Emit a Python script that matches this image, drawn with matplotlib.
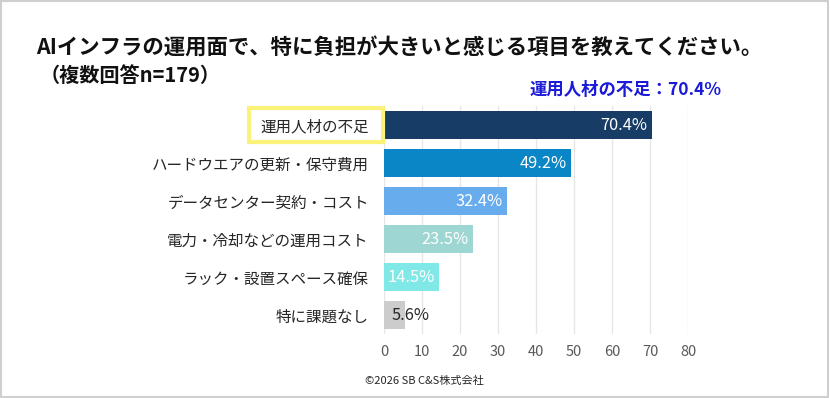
import matplotlib
matplotlib.use("Agg")
import matplotlib.pyplot as plt
from matplotlib.patches import Rectangle

plt.rcParams['font.family'] = ['Noto Sans CJK JP', 'DejaVu Sans']

categories = ["運用人材の不足", "ハードウエアの更新・保守費用", "データセンター契約・コスト",
              "電力・冷却などの運用コスト", "ラック・設置スペース確保", "特に課題なし"]
values = [70.4, 49.2, 32.4, 23.5, 14.5, 5.6]
colors = ["#173d66", "#0a85c6", "#67adee", "#9dd6d2", "#80e8e6", "#cccccc"]
xticks = [0, 10, 20, 30, 40, 50, 60, 70, 80]
title = "AIインフラの運用面で、特に負担が大きいと感じる項目を教えてください。"
subtitle = "（複数回答n=179）"
callout = "運用人材の不足：70.4%"
footer = "©2026 SB C&S株式会社"

fig = plt.figure(figsize=(8.3, 3.98), dpi=100)
ax = fig.add_axes([384/830, 1-334/398, (688-384)/830, (334-106)/398])

ypos = list(range(len(categories)))
ax.barh(ypos, values, height=0.76, color=colors, zorder=3)
ax.set_ylim(len(categories)-0.5, -0.5)
ax.set_xlim(0, 80)
ax.set_xticks(xticks)
ax.set_xticklabels([str(t) for t in xticks], fontsize=10.5, color="#595959")
ax.set_yticks(ypos)
ax.set_yticklabels(categories, fontsize=11.2, color="#262626")
ax.tick_params(axis='both', length=0)
ax.tick_params(axis='y', pad=11)
ax.tick_params(axis='x', pad=8)
ax.grid(axis='x', color="#e6e6e6", linewidth=1, zorder=0)
for s in ax.spines.values():
    s.set_visible(False)

for i, v in enumerate(values):
    if i < 5:
        ax.text(v - 1.2, i, f"{v:.1f}%", ha='right', va='center', color='white', fontsize=11.8, zorder=4)
    else:
        ax.text(2.0, i, f"{v:.1f}%", ha='left', va='center', color='#262626', fontsize=11.8, zorder=4)

# yellow highlight box around first label
fig.patches.append(Rectangle((249/830, 1-142/398), (383-249)/830, (142-108)/398,
                             transform=fig.transFigure, fill=False, edgecolor="#fbf27a",
                             linewidth=3, zorder=5))

fig.text(36/830, 1-48/398, title, fontsize=15.4, fontweight='bold', va='center', ha='left', color='#111111')
fig.text(40/830, 1-75/398, subtitle, fontsize=14.5, fontweight='bold', va='center', ha='left', color='#111111')
fig.text(722/830, 1-90/398, callout, fontsize=12.5, fontweight='bold', va='center', ha='right', color='#1a1ad8')
fig.text(365/830, 1-381/398, footer, fontsize=8, va='center', ha='left', color='#262626')

fig.patches.append(Rectangle((0.001, 0.002), 0.997, 0.995, transform=fig.transFigure,
                             fill=False, edgecolor="#cfcfcf", linewidth=1.5))

fig.savefig("out.png", dpi=100)
